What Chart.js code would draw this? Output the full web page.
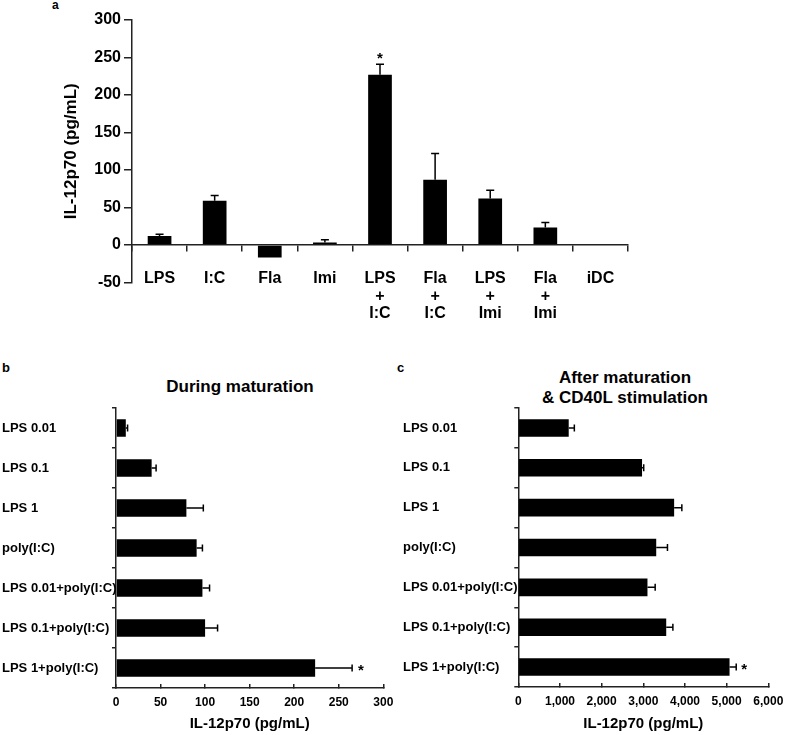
<!DOCTYPE html>
<html>
<head>
<meta charset="utf-8">
<script src="https://cdn.jsdelivr.net/npm/chart.js@4.4.0/dist/chart.umd.min.js"></script>
<style>
  body { margin: 0; background: #fff; width: 789px; height: 735px; position: relative; overflow: hidden; font-family: Arial, "Liberation Sans", sans-serif; }
  .box { position: absolute; }
  .txt { position: absolute; font-weight: bold; color: #000; white-space: nowrap; }
</style>
</head>
<body>
<div class="txt" style="left:52px; top:-2px; font-size:12px;">a</div>
<div class="txt" style="left:2px; top:360px; font-size:13px;">b</div>
<div class="txt" style="left:397px; top:360px; font-size:13px;">c</div>
<div class="txt" style="left:140px; width:200px; top:377px; font-size:17px; text-align:center;">During maturation</div>
<div class="txt" style="left:525px; width:200px; top:368px; font-size:17px; line-height:20px; text-align:center;">After maturation<br>&amp; CD40L stimulation</div>

<div class="box" style="left:0; top:0;"><canvas id="chartA" width="789" height="330"></canvas></div>
<div class="box" style="left:0; top:370px;"><canvas id="chartB" width="395" height="365"></canvas></div>
<div class="box" style="left:395px; top:370px;"><canvas id="chartC" width="394" height="365"></canvas></div>

<script>
"use strict";

// panel a
let catA = [["LPS"], ["I:C"], ["Fla"], ["Imi"], ["LPS", "+", "I:C"], ["Fla", "+", "I:C"], ["LPS", "+", "Imi"], ["Fla", "+", "Imi"], ["iDC"]];
let valA = [12, 59, -16.5, 3.5, 227, 87, 62, 23.5, 0];
let errA = [2.5, 7, 0, 3.5, 14, 35, 11, 6.5, 0];
let starA = [0, 0, 0, 0, 1, 0, 0, 0, 0];
let ticksA = [-50, 0, 50, 100, 150, 200, 250, 300];

// panels b and c share the categories
let catBC = ["LPS 0.01", "LPS 0.1", "LPS 1", "poly(I:C)", "LPS 0.01+poly(I:C)", "LPS 0.1+poly(I:C)", "LPS 1+poly(I:C)"];
let valB = [11, 40, 79, 90.5, 97, 100, 223.5];
let errB = [2, 5, 19, 6.5, 8, 14, 41.5];
let starB = [0, 0, 0, 0, 0, 0, 1];
let ticksB = [0, 50, 100, 150, 200, 250, 300];

let valC = [1210, 2970, 3740, 3310, 3100, 3550, 5070];
let errC = [135, 40, 185, 270, 185, 160, 160];
let starC = [0, 0, 0, 0, 0, 0, 1];
let ticksC = [0, 1000, 2000, 3000, 4000, 5000, 6000];

Chart.defaults.font.family = 'Arial, "Liberation Sans", sans-serif';
Chart.defaults.color = "#000";

const axisColor = "#222";

// error bars and asterisks, positioned through the value scale
const errorBars = {
  id: "errorBars",
  afterDatasetsDraw(chart, args, opts) {
    const ctx = chart.ctx;
    const horiz = chart.options.indexAxis === "y";
    const vScale = horiz ? chart.scales.x : chart.scales.y;
    const vals = chart.data.datasets[0].data;
    const half = opts.cap / 2;
    ctx.save();
    ctx.strokeStyle = "#000";
    ctx.fillStyle = "#000";
    ctx.lineWidth = 1.5;
    ctx.font = "bold 15px Arial, 'Liberation Sans', sans-serif";
    chart.getDatasetMeta(0).data.forEach(function(bar, i) {
      const err = opts.errors[i];
      const base = vScale.getPixelForValue(vals[i]);
      const end = vScale.getPixelForValue(vals[i] + err);
      if (err > 0) {
        ctx.beginPath();
        if (horiz) {
          ctx.moveTo(base, bar.y);
          ctx.lineTo(end, bar.y);
          ctx.moveTo(end, bar.y - half);
          ctx.lineTo(end, bar.y + half);
        } else {
          ctx.moveTo(bar.x, base);
          ctx.lineTo(bar.x, end);
          ctx.moveTo(bar.x - half, end);
          ctx.lineTo(bar.x + half, end);
        }
        ctx.stroke();
      }
      if (opts.stars[i]) {
        ctx.textBaseline = "alphabetic";
        if (horiz) {
          ctx.textAlign = "left";
          ctx.fillText("*", end + opts.starGap, bar.y + 7);
        } else {
          ctx.textAlign = "center";
          ctx.fillText("*", bar.x, end - 1);
        }
      }
    });
    ctx.restore();
  }
};

new Chart(document.getElementById("chartA"), {
  type: "bar",
  data: {
    labels: catA,
    datasets: [{ data: valA, backgroundColor: "#000", categoryPercentage: 0.86, barPercentage: 0.5 }]
  },
  options: {
    responsive: false,
    animation: false,
    layout: { padding: { left: 0, right: 161, top: 20, bottom: 47.5 } },
    plugins: {
      legend: { display: false },
      tooltip: { enabled: false },
      errorBars: { errors: errA, stars: starA, cap: 8, starGap: 0 }
    },
    scales: {
      x: {
        type: "category",
        position: { y: 0 },
        offset: true,
        grid: { drawOnChartArea: false, drawTicks: true, tickLength: 6, offset: true, color: axisColor, lineWidth: 1.5 },
        border: { color: axisColor, width: 1.5 },
        ticks: { font: { size: 16, weight: "bold", lineHeight: 1.1 }, padding: 19, autoSkip: false, maxRotation: 0 }
      },
      y: {
        min: -50,
        max: 300,
        afterBuildTicks(scale) { scale.ticks = ticksA.map(v => ({ value: v })); },
        afterFit(scale) { scale.width = 132; },
        grid: { drawOnChartArea: false, drawTicks: true, tickLength: 8, color: axisColor, lineWidth: 1.5 },
        border: { color: axisColor, width: 1.5 },
        ticks: { font: { size: 16, weight: "bold" }, padding: 3 },
        title: { display: true, text: "IL-12p70 (pg/mL)", font: { size: 17, weight: "bold" }, padding: { top: 61, bottom: 0 } }
      }
    }
  },
  plugins: [errorBars]
});

function hbarChart(id, values, errors, stars, ticks, padLeft, padRight, yWidth, xHeight, starGap) {
  new Chart(document.getElementById(id), {
    type: "bar",
    data: {
      labels: catBC,
      datasets: [{ data: values, backgroundColor: "#000", categoryPercentage: 0.88, barPercentage: 0.5 }]
    },
    options: {
      indexAxis: "y",
      responsive: false,
      animation: false,
      layout: { padding: { left: padLeft, right: padRight, top: 38, bottom: 0 } },
      plugins: {
        legend: { display: false },
        tooltip: { enabled: false },
        errorBars: { errors: errors, stars: stars, cap: 7, starGap: starGap }
      },
      scales: {
        x: {
          min: ticks[0],
          max: ticks[ticks.length - 1],
          afterBuildTicks(scale) { scale.ticks = ticks.map(v => ({ value: v })); },
          afterFit(scale) {
            // the layout padding already leaves room for the end labels
            scale.height = xHeight;
            scale.paddingLeft = 0;
            scale.paddingRight = 0;
          },
          grid: { drawOnChartArea: false, drawTicks: true, tickLength: -4, color: axisColor, lineWidth: 1.5 },
          border: { color: axisColor, width: 1.5 },
          ticks: {
            font: { size: 12, weight: "bold" },
            padding: 11,
            maxRotation: 0,
            callback: v => v.toLocaleString("en-US")
          },
          title: { display: true, text: "IL-12p70 (pg/mL)", font: { size: 15, weight: "bold" }, padding: { top: 0, bottom: 2 } }
        },
        y: {
          offset: true,
          afterFit(scale) { scale.width = yWidth; },
          grid: { drawOnChartArea: false, drawTicks: true, tickLength: 4, offset: true, color: axisColor, lineWidth: 1.5 },
          border: { color: axisColor, width: 1.5 },
          ticks: { font: { size: 13, weight: "bold" }, crossAlign: "far", autoSkip: false }
        }
      }
    },
    plugins: [errorBars]
  });
}

hbarChart("chartB", valB, errB, starB, ticksB, 2, 11.7, 114, 47, 6);
hbarChart("chartC", valC, errC, starC, ticksC, 8, 20.7, 115.3, 48, 5);
</script>
</body>
</html>
